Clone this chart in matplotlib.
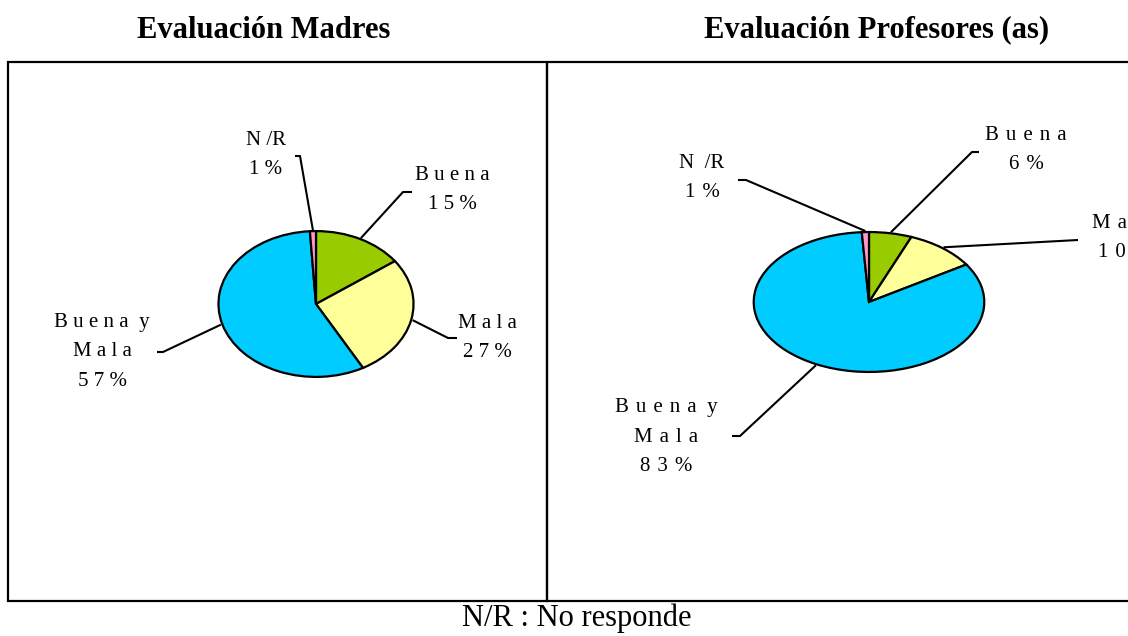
import matplotlib.pyplot as plt
from matplotlib.patches import Rectangle
import numpy as np

# ----------------------------------------------------------------- datos
categorias = ["Buena", "Mala", "Buena y Mala", "N/R"]
madres = [15, 27, 57, 1]
profesores = [6, 10, 83, 1]
colores = ["#99CC00", "#FFFF99", "#00CCFF", "#FF99CC"]
titulos = ["Evaluación Madres", "Evaluación Profesores (as)"]
nombres = [["Buena", "Mala", "Buena y\nMala", "N/R"],
           ["Buena", "Mala", "Buena y\nMala", "N /R"]]
nota = "N/R : No responde"

W, H = 1128, 636
fig = plt.figure(figsize=(W / 100, H / 100), dpi=100)
plt.rcParams['font.family'] = ['Liberation Serif', 'DejaVu Serif']

# elipse de cada torta: centro x, centro y, radio x, radio y (pixeles)
elipses = [(316, 304, 99, 74), (869, 302, 117, 71)]
centro_titulo = [264, 877]
# posicion de las etiquetas (centro del bloque de texto)
pos_etiq = [[(452, 190), (487, 338), (102, 352), (266, 155)],
            [(1026, 150), (1124, 238), (666, 437), (702, 178)]]
# quiebres de las lineas guia
codos = [[[(403, 192), (412, 192)], [(448, 338), (457, 338)],
          [(163, 352), (157, 352)], [(300, 156), (295, 156)]],
         [[(972, 152), (979, 152)], [(1078, 240)],
          [(740, 436), (732, 436)], [(746, 180), (738, 180)]]]
separadores = [" ", " \u200a"]


def espaciar(texto, sep):
    lineas = []
    for linea in texto.split("\n"):
        s = ""
        for j, c in enumerate(linea):
            s += c
            if j < len(linea) - 1 and c not in " /" and linea[j + 1] != " ":
                s += sep
            elif c == " ":
                s += " "
        lineas.append(s)
    return "\n".join(lineas)


for k, valores in enumerate([madres, profesores]):
    cx, cy, rx, ry = elipses[k]
    axp = fig.add_axes([(cx - rx) / W, (H - cy - ry) / H, 2 * rx / W, 2 * ry / H])
    axp.pie(valores, colors=colores, startangle=90, counterclock=False, radius=1,
            wedgeprops=dict(edgecolor="black", linewidth=1.6))
    axp.set_aspect("auto")
    axp.set_xlim(-1.015, 1.015)
    axp.set_ylim(-1.015, 1.015)
    axp.axis("off")

ax = fig.add_axes([0, 0, 1, 1])
ax.set_xlim(0, W)
ax.set_ylim(H, 0)
ax.axis("off")

# cajas
ax.add_patch(Rectangle((8, 62), 539, 539, fill=False, lw=1.6, ec="black"))
ax.add_patch(Rectangle((547, 62), 620, 539, fill=False, lw=1.6, ec="black"))

for k, valores in enumerate([madres, profesores]):
    cx, cy, rx, ry = elipses[k]
    ax.text(centro_titulo[k], 30, titulos[k], fontsize=22, fontweight="bold",
            ha="center", va="center")
    acumulado = 0
    for i, v in enumerate(valores):
        medio = np.deg2rad(90 - 3.6 * (acumulado + v / 2))
        acumulado += v
        ancla = (cx + rx * np.cos(medio), cy - ry * np.sin(medio))
        puntos = [ancla] + codos[k][i]
        ax.plot([p[0] for p in puntos], [p[1] for p in puntos], color="black", lw=1.5,
                solid_capstyle="butt")
        sep = separadores[k]
        texto = espaciar(nombres[k][i], sep) + "\n" + espaciar(str(v) + "%", sep)
        x, y = pos_etiq[k][i]
        ax.text(x, y, texto, fontsize=15, ha="center", va="center", multialignment="center",
                linespacing=1.75, color="black")

ax.text(577, 618, nota, fontsize=22, ha="center", va="center")

plt.savefig("out.png", dpi=100)
